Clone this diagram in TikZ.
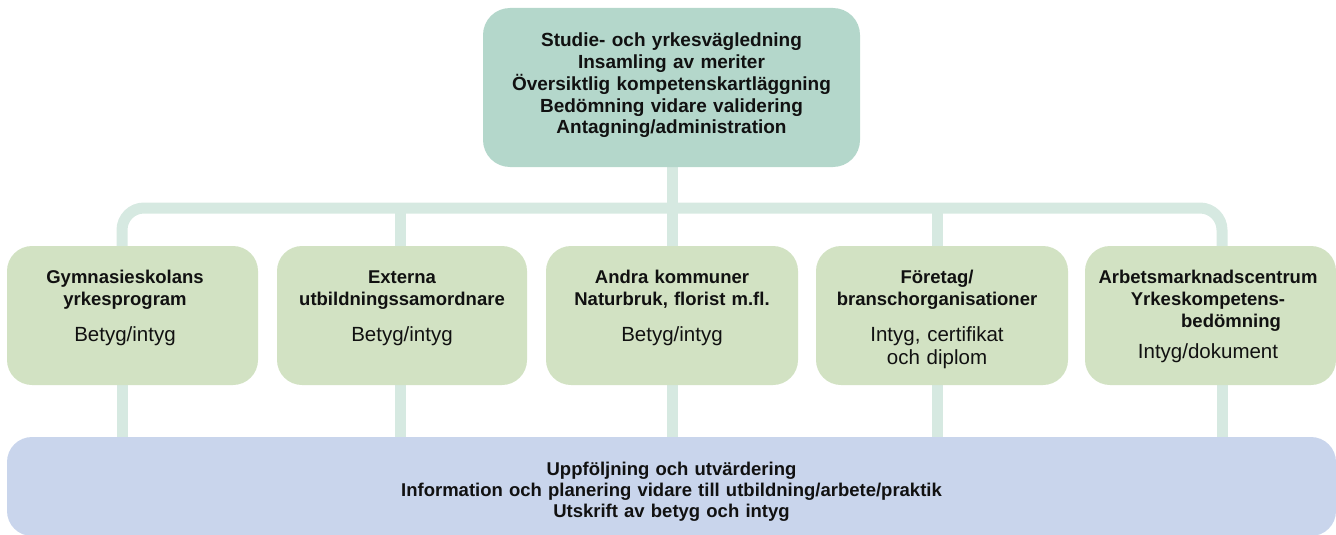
\documentclass[tikz,border=0pt]{standalone}
\usepackage{fontspec}
\setmainfont{Liberation Sans}
\usetikzlibrary{backgrounds}
\definecolor{topc}{HTML}{B4D7CB}
\definecolor{midc}{HTML}{D2E2C3}
\definecolor{botc}{HTML}{C9D5EC}
\definecolor{conc}{HTML}{D6E9E1}
\definecolor{txt}{HTML}{111111}
\begin{document}
\begin{tikzpicture}[x=1pt,y=-1pt,
  box/.style={rectangle, rounded corners=25pt, draw=none, inner sep=0pt},
  topbox/.style={box, fill=topc, rounded corners=27pt, minimum width=377pt, minimum height=159pt},
  midbox/.style={box, fill=midc, minimum height=139pt},
  botbox/.style={box, fill=botc, minimum width=1329pt, minimum height=99pt},
  conn/.style={draw=conc, line width=11pt},
  boldtxt/.style={anchor=base, inner sep=0pt, text width=250pt, align=center, text=txt,
    font=\fontsize{18.5}{22}\selectfont\bfseries},
  regtxt/.style={anchor=base, inner sep=0pt, text width=250pt, align=center, text=txt,
    font=\fontsize{20.5}{23}\selectfont},
  toptxt/.style={anchor=base, inner sep=0pt, text width=370pt, align=center, text=txt,
    font=\fontsize{19}{21.7}\selectfont\bfseries},
  bottxt/.style={anchor=base, inner sep=0pt, text width=1300pt, align=center, text=txt,
    font=\fontsize{18.5}{21}\selectfont\bfseries}
]
\useasboundingbox (0,0) rectangle (1336,535);

% boxes
\node[topbox] (top) at (671.5,87.5) {};
\node[midbox, minimum width=251pt] (b1) at (132.5,315.5) {};
\node[midbox, minimum width=250pt] (b2) at (402,315.5) {};
\node[midbox, minimum width=252pt] (b3) at (672,315.5) {};
\node[midbox, minimum width=252pt] (b4) at (942,315.5) {};
\node[midbox, minimum width=251pt] (b5) at (1210.5,315.5) {};
\node[botbox] (bot) at (671.5,486.5) {};

% connector positions
\coordinate (c1) at (122,208);
\coordinate (c2) at (400,208);
\coordinate (c3) at (672,208);
\coordinate (c4) at (937,208);
\coordinate (c5) at (1222,208);

\begin{scope}[on background layer]
  \draw[conn, rounded corners=22pt] (b1.north -| c1) -- (c1) -- (c5) -- (b5.north -| c5);
  \draw[conn] (top.south -| c3) -- (b3.north -| c3);
  \draw[conn] (c2) -- (b2.north -| c2);
  \draw[conn] (c4) -- (b4.north -| c4);
  \draw[conn] (b1.south -| c1) -- (bot.north -| c1);
  \draw[conn] (b2.south -| c2) -- (bot.north -| c2);
  \draw[conn] (b3.south -| c3) -- (bot.north -| c3);
  \draw[conn] (b4.south -| c4) -- (bot.north -| c4);
  \draw[conn] (b5.south -| c5) -- (bot.north -| c5);
\end{scope}

% texts
\node[toptxt] (ttop) at (671.5,47) {Studie- och yrkesvägledning\\Insamling av meriter\\Översiktlig kompetenskartläggning\\Bedömning vidare validering\\Antagning/administration};

\node[boldtxt] (t1) at (125,283) {Gymnasieskolans\\yrkesprogram};
\node[regtxt] (r1) at (125,341) {Betyg/intyg};

\node[boldtxt] (t2) at (402,283) {Externa\\utbildningssamordnare};
\node[regtxt] (r2) at (402,341) {Betyg/intyg};

\node[boldtxt] (t3) at (672,283) {Andra kommuner\\Naturbruk, florist m.fl.};
\node[regtxt] (r3) at (672,341) {Betyg/intyg};

\node[boldtxt] (t4) at (937,283) {Företag/\\branschorganisationer};
\node[regtxt] (r4) at (937,341) {Intyg, certifikat\\och diplom};

\node[boldtxt] (t5) at (1208,283) {Arbetsmarknadscentrum\\Yrkeskompetens-\\\hspace*{46pt}bedömning};
\node[regtxt] (r5) at (1208,358) {Intyg/dokument};

\node[bottxt] (tbot) at (671.5,475) {Uppföljning och utvärdering\\Information och planering vidare till utbildning/arbete/praktik\\Utskrift av betyg och intyg};
\end{tikzpicture}
\end{document}
